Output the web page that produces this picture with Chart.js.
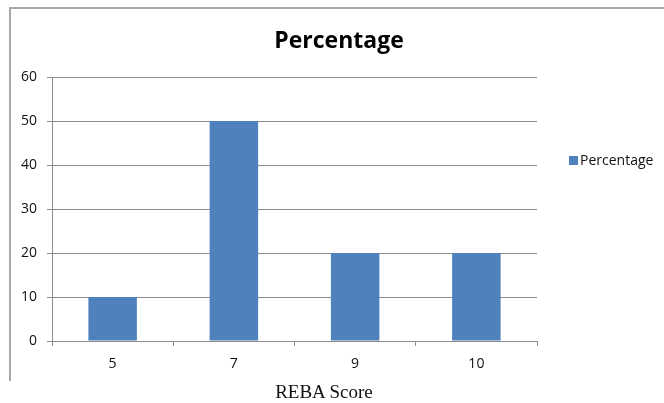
<!DOCTYPE html>
<html>
<head>
<meta charset="utf-8">
<script src="https://cdn.jsdelivr.net/npm/chart.js@4/dist/chart.umd.min.js"></script>
<style>
  html, body { margin: 0; padding: 0; background: #fff; }
  body { width: 664px; height: 403px; position: relative; overflow: hidden; }
  #frame { position: absolute; left: 9px; top: 7px; width: 660px; height: 374px;
           border-top: 2px solid #a8a8a8; border-left: 2px solid #a8a8a8; box-sizing: border-box; }
  #wrap { position: absolute; left: 0; top: 0; width: 664px; height: 403px; }
  #legend { position: absolute; left: 569px; top: 152px; display: flex; align-items: center;
            font-family: "Open Sans", sans-serif; font-size: 14px; color: #111; line-height: 16px; }
  #legend .sw { width: 9px; height: 9px; margin-right: 2px; }
  #xtitle { position: absolute; left: 0; width: 648px; top: 382px; text-align: center;
            font-family: "Liberation Serif", "Times New Roman", serif; font-size: 19px; line-height: 19px; color: #111; }
</style>
</head>
<body>
<div id="frame"></div>
<div id="wrap"><canvas id="c" width="664" height="403"></canvas></div>
<div id="legend"></div>
<div id="xtitle"></div>
<script>
const categories = ['5', '7', '9', '10'];
const seriesLabel = 'Percentage';
const percentageValues = [10, 50, 20, 20];
const yTicks = [0, 10, 20, 30, 40, 50, 60];
const chartTitle = 'Percentage';
const xAxisTitle = 'REBA Score';

const barColor = '#4F81BD';
const gridColor = '#8c8c8c';
const tickFont = { family: 'Open Sans', size: 14 };

document.getElementById('legend').innerHTML =
  '<span class="sw" style="background:' + barColor + '"></span><span>' + seriesLabel + '</span>';
document.getElementById('xtitle').textContent = xAxisTitle;

new Chart(document.getElementById('c'), {
  type: 'bar',
  data: {
    labels: categories,
    datasets: [{
      label: seriesLabel,
      data: percentageValues,
      backgroundColor: barColor,
      borderWidth: 0,
      barPercentage: 0.4,
      categoryPercentage: 1.0
    }]
  },
  options: {
    responsive: false,
    animation: false,
    devicePixelRatio: 1,
    layout: { padding: { left: 14, right: 0, top: 8, bottom: 0 } },
    plugins: {
      legend: { display: false },
      tooltip: { enabled: false },
      title: {
        display: true,
        text: chartTitle,
        color: '#000',
        font: { family: 'Open Sans', size: 23, weight: 'bold', lineHeight: 1.2 },
        padding: { top: 19.4, bottom: 22.0 }
      }
    },
    scales: {
      x: {
        grid: { display: true, drawOnChartArea: false, drawTicks: true, tickLength: 5, color: gridColor, offset: true },
        border: { display: true, color: gridColor, width: 1 },
        ticks: { color: '#111', font: tickFont, padding: 10, maxRotation: 0 },
        afterFit: (s) => { s.height = 62; }
      },
      y: {
        min: yTicks[0],
        max: yTicks[yTicks.length - 1],
        afterBuildTicks: (s) => { s.ticks = yTicks.map(v => ({ value: v })); },
        grid: { color: gridColor, tickLength: 5, drawTicks: true },
        border: { display: true, color: gridColor, width: 1 },
        ticks: { color: '#111', font: tickFont, padding: 10 },
        afterFit: (s) => { s.width = 38; }
      },
      yRight: {
        position: 'right',
        display: true,
        grid: { display: false },
        border: { display: false },
        ticks: { display: false },
        afterFit: (s) => { s.width = 127; }
      }
    }
  }
});
</script>
</body>
</html>
